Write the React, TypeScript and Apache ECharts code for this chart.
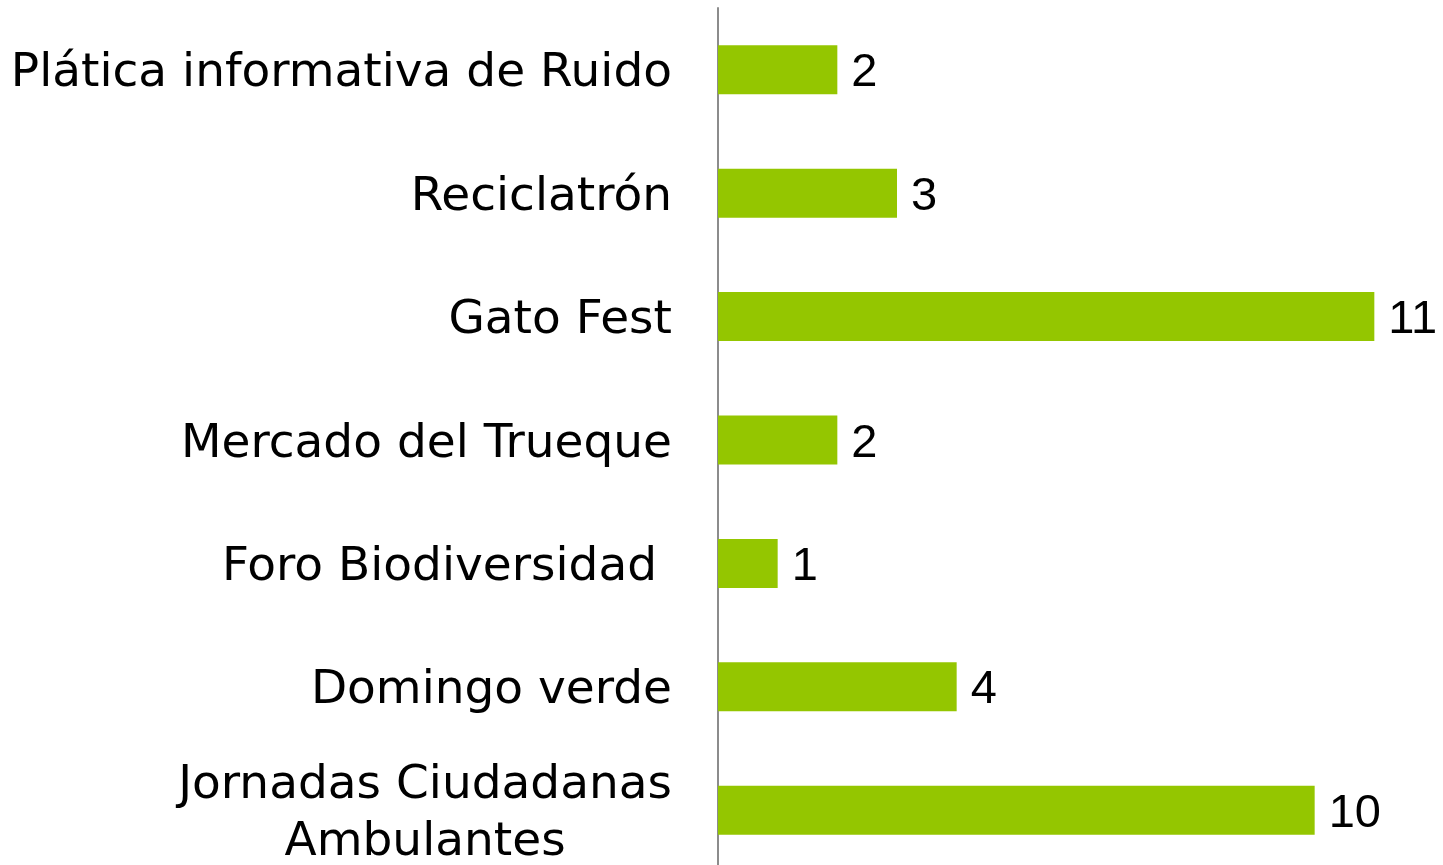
import React, { useEffect, useRef } from "react";
import * as echarts from "echarts";

const categories = [
  "Plática informativa de Ruido",
  "Reciclatrón",
  "Gato Fest",
  "Mercado del Trueque",
  "Foro Biodiversidad ",
  "Domingo verde",
  "Jornadas Ciudadanas\nAmbulantes",
];
const values = [2, 3, 11, 2, 1, 4, 10];

const FONT = "DejaVu Sans";
const NUM_FONT = "Liberation Sans";

export default function App() {
  const ref = useRef<HTMLDivElement>(null);
  useEffect(() => {
    if (!ref.current) return;
    const chart = echarts.init(ref.current, undefined, { renderer: "svg" });
    chart.setOption({
      animation: false,
      grid: { left: 718, right: 9, top: 8, bottom: 8 },
      xAxis: {
        type: "value",
        min: 0,
        max: 12,
        show: false,
      },
      yAxis: {
        type: "category",
        inverse: true,
        data: categories,
        axisLine: { show: true, lineStyle: { color: "#8c8c8c", width: 2 } },
        axisTick: { show: false },
        axisLabel: {
          margin: 46,
          fontFamily: FONT,
          fontSize: 47,
          color: "#000000",
          lineHeight: 57,
          formatter: (v: string) =>
            v
              .split("\n")
              .map((l) => `{a|${l}}`)
              .join("\n"),
          rich: {
            a: {
              fontFamily: FONT,
              fontSize: 47,
              color: "#000000",
              lineHeight: 57,
              align: "center",
            },
          },
        },
        splitLine: { show: false },
      },
      series: [
        {
          type: "bar",
          data: values,
          barWidth: 49,
          itemStyle: { color: "#94C600" },
          label: {
            show: true,
            position: "right",
            distance: 14,
            fontFamily: NUM_FONT,
            fontSize: 47,
            color: "#000000",
          },
        },
      ],
    });
    return () => chart.dispose();
  }, []);
  return (
    <div
      ref={ref}
      style={{ position: "fixed", left: 0, top: 0, width: 1443, height: 880 }}
    />
  );
}
